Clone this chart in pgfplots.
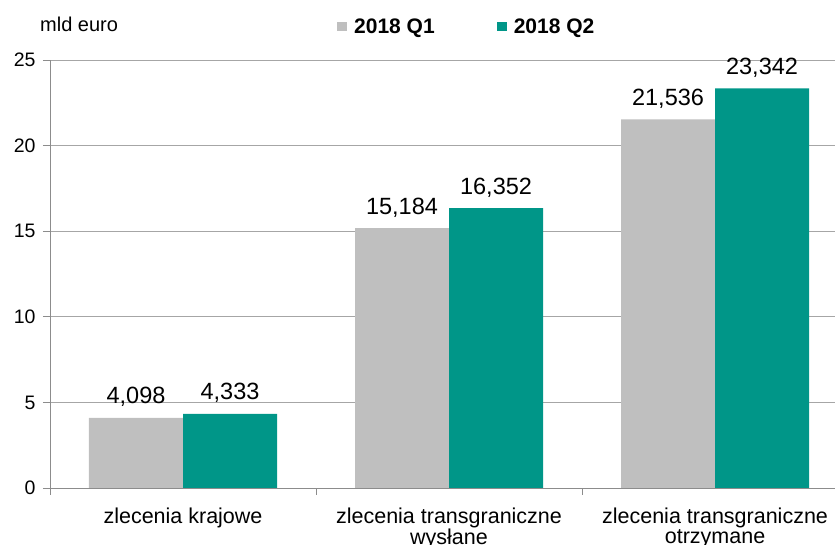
\documentclass[border=0pt]{standalone}
\usepackage{pgfplots}
\pgfplotsset{compat=1.18}
\usepackage{fontspec}
\setmainfont{Liberation Sans}
\definecolor{qone}{HTML}{BFBFBF}
\definecolor{qtwo}{HTML}{009688}
\definecolor{gridc}{HTML}{A6A6A6}
\definecolor{axc}{HTML}{8C8C8C}
\begin{document}
\begin{tikzpicture}
\begin{axis}[
  scale only axis,
  width=785pt, height=428pt,
  xmin=-0.5, xmax=2.451,
  ymin=0, ymax=25,
  ytick={0,5,10,15,20,25},
  axis x line*=bottom,
  axis y line*=left,
  axis line style={axc, line width=0.9pt},
  ymajorgrids,
  grid style={gridc, line width=0.9pt},
  ytick style={axc, line width=0.9pt},
  tick align=outside,
  major tick length=7pt,
  xtick={0,1,2},
  xtick style={draw=none},
  xticklabels={{zlecenia krajowe},{zlecenia transgraniczne\\wysłane},{zlecenia transgraniczne\\otrzymane}},
  xticklabel style={align=center, font=\fontsize{21.5}{20}\selectfont, text depth=0pt, yshift=-9pt},
  extra x ticks={-0.5,0.5,1.5},
  extra x tick labels={},
  extra x tick style={xtick style={axc, line width=0.9pt, draw=axc}, major tick length=7pt},
  yticklabel style={font=\fontsize{19.5}{22}\selectfont, xshift=-4pt},
  /pgf/number format/assume math mode=true,
  ybar=0pt,
  bar width=0.3534,
  nodes near coords={\pgfmathprintnumber[fixed,fixed zerofill,precision=3,use comma,assume math mode=true]{\pgfplotspointmeta}},
  every node near coord/.append style={font=\fontsize{23.5}{26}\selectfont, anchor=base, yshift=14pt, inner sep=0pt, black},
  legend columns=2,
  legend image code/.code={\fill[#1] (0pt,-4.5pt) rectangle (10pt,4.5pt); \path (14pt,0pt);},
  legend style={at={(rel axis cs:0.3656,1.078)}, anchor=west, draw=none, fill=none,
    font=\bfseries\fontsize{21}{24}\selectfont, inner sep=0pt,
    nodes={inner sep=3pt, anchor=west},
    /tikz/every even column/.append style={column sep=59pt}},
  clip=false,
]
\addplot[fill=qone, draw=none, bar shift=-0.1767] coordinates {(0,4.098) (1,15.184) (2,21.536)};
\addplot[fill=qtwo, draw=none, bar shift=0.1767] coordinates {(0,4.333) (1,16.352) (2,23.342)};
\legend{2018 Q1, 2018 Q2}
\node[anchor=base west, inner sep=0pt, font=\fontsize{20}{22}\selectfont] at (rel axis cs:0,1) [xshift=-10pt, yshift=28pt] {mld euro};
\end{axis}
\pgfresetboundingbox
\path[use as bounding box] (-50pt,-57pt) rectangle (785pt,488pt);
\end{tikzpicture}
\end{document}
